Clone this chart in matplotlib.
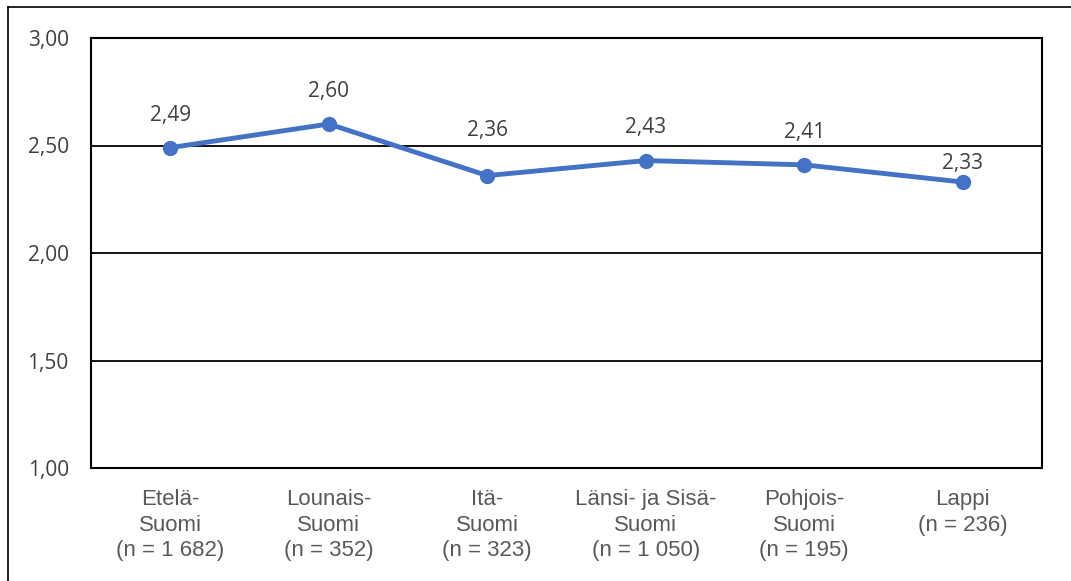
import matplotlib.pyplot as plt
from matplotlib.lines import Line2D

regions = ["Etelä-\nSuomi\n(n = 1 682)", "Lounais-\nSuomi\n(n = 352)", "Itä-\nSuomi\n(n = 323)",
           "Länsi- ja Sisä-\nSuomi\n(n = 1 050)", "Pohjois-\nSuomi\n(n = 195)", "Lappi\n(n = 236)"]
values = [2.49, 2.60, 2.36, 2.43, 2.41, 2.33]
y_ticks = [1.0, 1.5, 2.0, 2.5, 3.0]
# label lift above the point (points); two labels were nudged by hand in the original
label_lift = [23, 23.5, 32.5, 23.5, 23, 13.5]

text_gray = "#404040"
line_blue = "#4472C4"

fig = plt.figure(figsize=(10.71, 5.81), dpi=100)
ax = fig.add_axes([91 / 1071, 113 / 581, 951 / 1071, 430 / 581])

x = list(range(len(values)))
ax.plot(x, values, color=line_blue, linewidth=3.5, marker="o", markersize=10, zorder=3)

for xi, v, lift in zip(x, values, label_lift):
    ax.annotate(f"{v:.2f}".replace(".", ","), (xi, v), xytext=(0, lift), textcoords="offset points",
                ha="center", va="center", fontsize=15, family="Open Sans", color=text_gray)

ax.set_xlim(-0.5, len(values) - 0.5)
ax.set_ylim(1.0, 3.0)
ax.set_yticks(y_ticks)
ax.set_yticklabels([f"{t:.2f}".replace(".", ",") for t in y_ticks], family="Open Sans",
                   fontsize=15, color=text_gray)
ax.set_xticks(x)
ax.set_xticklabels(regions, family="Liberation Sans", fontsize=16, color="#595959", linespacing=1.3)
ax.tick_params(length=0)
ax.tick_params(axis="y", pad=16)
ax.tick_params(axis="x", pad=15)

for t in y_ticks[1:]:
    ax.axhline(t, color="black", linewidth=1.3, zorder=1)
for s in ax.spines.values():
    s.set_color("black")
    s.set_linewidth(1.5)

# outer chart frame (cut off at right and bottom)
fig.add_artist(Line2D([8 / 1071, 8 / 1071], [0, 1 - 7 / 581], transform=fig.transFigure,
                      color="black", linewidth=1.2))
fig.add_artist(Line2D([8 / 1071, 1], [1 - 7 / 581, 1 - 7 / 581], transform=fig.transFigure,
                      color="black", linewidth=1.2))

fig.savefig("out.png", dpi=100)
